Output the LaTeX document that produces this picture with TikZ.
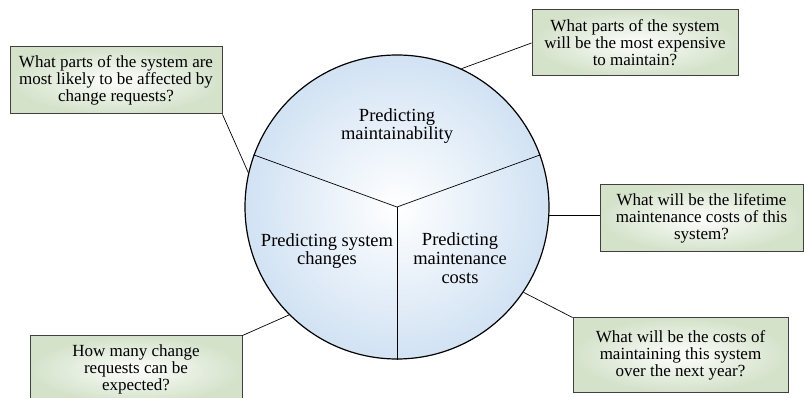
\documentclass[tikz,border=0pt]{standalone}
\usepackage{fontspec}
\setmainfont{Liberation Serif}
\usepackage{tikz}
\definecolor{qgreen}{RGB}{212,226,202}
\definecolor{cblue}{RGB}{204,223,242}
\tikzset{
    question/.style={rectangle, draw=black!75, line width=1pt,
    	inner color=white!95!qgreen, outer color=qgreen, align=center,
    	inner sep=0pt, font=\fontsize{17}{17}\selectfont}
}
\tikzset{
    sector/.style={align=center, inner sep=0pt,
    	font=\fontsize{18.5}{18.7}\selectfont}
}
\tikzset{
	every edge/.append style={line width=0.7pt}
}

\begin{document}
\begin{tikzpicture}[x=1pt,y=-1pt]
	\useasboundingbox (0,0) rectangle (804,398);
	\node[circle, draw, line width=1.2pt, minimum size=304pt, inner sep=0pt,
		inner color=white, outer color=cblue!90!white] (circ) at (397,207) {};
	\draw[line width=0.7pt] (circ.center) -- (circ.160);
	\draw[line width=0.7pt] (circ.center) -- (circ.20);
	\draw[line width=0.7pt] (circ.center) -- (circ.270);

	\node[sector] (pm) at (397,126) {Predicting\\maintainability};
	\node[sector] (ps) at (327,251) {Predicting system\\changes};
	\node[sector] (pc) at (460,258) {Predicting\\maintenance\\costs};

	\node[question, minimum width=212pt, minimum height=67pt] (q1) at (116,80.5)
		{What parts of the system are\\most likely to be affected by\\change requests?};
	\node[question, minimum width=206pt, minimum height=66pt] (q2) at (635,43)
		{What parts of the system\\will be the most expensive\\to maintain?};
	\node[question, minimum width=203pt, minimum height=67pt] (q3) at (701.5,218.5)
		{What will be the lifetime\\maintenance costs of this\\system?};
	\node[question, minimum width=212pt, minimum height=67pt] (q4) at (136,369.5)
		{How many change\\requests can be\\expected?};
	\node[question, minimum width=215pt, minimum height=74pt] (q5) at (680.5,355)
		{What will be the costs of\\maintaining this system\\over the next year?};

	\draw (q1.south east) edge (circ.167);
	\draw (circ.65) edge (q2.west);
	\draw (circ.-3) edge (circ.-3 -| q3.west);
	\draw (q4.north east) edge (circ.225);
	\draw (circ.-34) edge (q5.north west);
\end{tikzpicture}
\end{document}
